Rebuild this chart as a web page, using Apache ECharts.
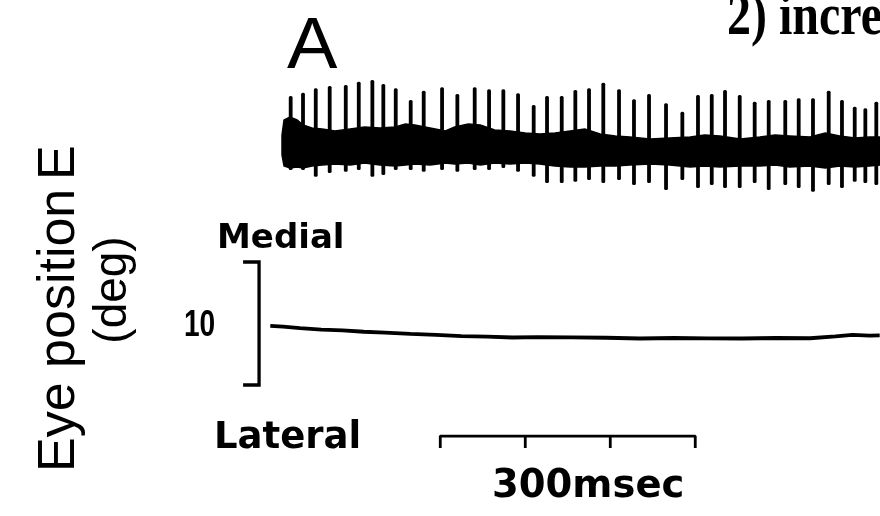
<!DOCTYPE html>
<html><head><meta charset="utf-8">
<script src="https://cdn.jsdelivr.net/npm/echarts@6.0.0/dist/echarts.min.js"></script>
<style>html,body{margin:0;padding:0;background:#fff}#chart{width:880px;height:516px}</style>
</head><body><div id="chart"></div>
<script>
// ---- Unit recording (arbitrary units), time in ms ----
const spikeTimes = [9, 23.5, 38.5, 54.9, 73.8, 89.1, 105.1, 118, 132.6, 150.2, 165.5, 187.1, 205.1, 225.5, 242.4, 259.2, 276.5, 294.9, 310.6, 327.9, 343.9, 360, 376.8, 395.3, 412.9, 430.6, 450.6, 469.8, 488.2, 504.4, 520, 537.3, 554.9, 571.4, 590.9, 606.7, 623.5, 642, 657.6, 672.6, 685.1, 698];
const spikePeaks = [51, 54.3, 58.7, 61, 62, 65.3, 67, 63, 58.7, 47, 56.3, 59.7, 53, 59.7, 57.7, 57.7, 53.7, 42, 51, 51, 57, 58.7, 64.3, 57.7, 47.7, 53, 43.7, 35.3, 52, 53, 57, 52, 45.3, 47, 47, 48.7, 48.7, 56.3, 47, 40.3, 38.7, 45.3];
const spikeTroughs = [-23, -23, -29.7, -26, -24.7, -23, -29.7, -28, -23, -23, -24.7, -23, -24.7, -23, -23, -21, -24.7, -29.7, -36, -36, -34.7, -33, -36, -33, -38, -36, -43, -33, -41, -38, -41, -41, -36, -43, -38, -41, -44.7, -38, -41, -34.7, -36, -38];
const bandTimes = [-1.2, 1.2, 8.2, 16.5, 23.5, 34, 46, 61, 79, 96, 114, 132, 144, 155, 173, 191, 202, 218, 232, 249, 267, 285, 302, 320, 338, 355, 373, 391, 408, 432, 455, 479, 496, 514, 538, 561, 579, 596, 620, 638, 655, 673, 690, 702.4];
const bandUpper = [12, 27, 30, 27, 22, 19, 18, 16, 18, 20, 19, 20, 23, 22, 19, 16, 20, 23, 22, 17, 16, 14, 13, 14, 16, 18, 13, 11, 10, 8, 9, 10, 12, 11, 8, 10, 12, 11, 10, 14, 11, 9, 10, 10];
const bandLower = [-8, -19, -21, -20, -21, -19, -18, -17, -18, -16, -18, -19, -18, -17, -18, -16, -17, -16, -18, -16, -17, -16, -17, -19, -20, -20, -19, -19, -18, -17, -18, -20, -19, -20, -19, -19, -18, -20, -19, -21, -19, -20, -19, -18];

// ---- Eye position (deg), time in ms ----
const eyeTimes = [-15, 0, 20, 45, 70, 95, 120, 150, 180, 210, 240, 270, 300, 340, 380, 420, 460, 500, 540, 580, 620, 650, 670, 690, 702];
const eyeDeg = [9.80, 9.74, 9.62, 9.50, 9.44, 9.33, 9.26, 9.15, 9.08, 8.98, 8.93, 8.86, 8.90, 8.88, 8.84, 8.78, 8.82, 8.79, 8.78, 8.82, 8.80, 8.95, 9.08, 9.02, 9.03];

// ---- Scale bars ----
const bracketDeg = [5, 15];          // 10 deg calibration
const bracketLabel = '10';
const scaleBarMs = [185, 285, 385, 485]; // 300 ms with 100 ms ticks
const scaleLabel = '300msec';

const chart = echarts.init(document.getElementById('chart'), null, {renderer: 'canvas'});

const xRange = {min: -333, max: 702.35};
const spikeData = spikeTimes.map((t, i) => [t, spikePeaks[i], spikeTroughs[i]]);

const series = [
  {
    type: 'custom', xAxisIndex: 0, yAxisIndex: 0, silent: true,
    data: [[bandTimes[0], 0]],
    renderItem: function (params, api) {
      const pts = [];
      for (let i = 0; i < bandTimes.length; i++) pts.push(api.coord([bandTimes[i], bandUpper[i]]));
      for (let i = bandTimes.length - 1; i >= 0; i--) pts.push(api.coord([bandTimes[i], bandLower[i]]));
      return {type: 'polygon', shape: {points: pts}, style: {fill: '#000', stroke: '#000', lineWidth: 1.5}};
    }
  },
  {
    type: 'custom', xAxisIndex: 0, yAxisIndex: 0, silent: true,
    data: spikeData,
    encode: {x: 0, y: [1, 2]},
    renderItem: function (params, api) {
      const t = api.value(0);
      const a = api.coord([t, api.value(1)]);
      const b = api.coord([t, api.value(2)]);
      return {type: 'rect', shape: {x: a[0] - 1.9, y: a[1], width: 3.8, height: b[1] - a[1], r: 1.5}, style: {fill: '#000'}};
    }
  },
  {
    type: 'line', xAxisIndex: 1, yAxisIndex: 1, silent: true, symbol: 'none',
    data: eyeTimes.map((t, i) => [t, eyeDeg[i]]),
    lineStyle: {color: '#000', width: 3.8}
  },
  {
    type: 'line', xAxisIndex: 1, yAxisIndex: 1, silent: true, symbol: 'none',
    data: [[-47, bracketDeg[1]], [-28.2, bracketDeg[1]], [-28.2, bracketDeg[0]], [-47, bracketDeg[0]]],
    lineStyle: {color: '#000', width: 3.3, join: 'miter'}
  },
  {
    type: 'line', xAxisIndex: 1, yAxisIndex: 1, silent: true, symbol: 'none',
    data: [[scaleBarMs[0], -0.5], [scaleBarMs[0], 0.85], [scaleBarMs[3], 0.85], [scaleBarMs[3], -0.5]],
    lineStyle: {color: '#000', width: 2.8}
  }
].concat(scaleBarMs.slice(1, 3).map(t => ({
  type: 'line', xAxisIndex: 1, yAxisIndex: 1, silent: true, symbol: 'none',
  data: [[t, 0.85], [t, -0.5]],
  lineStyle: {color: '#000', width: 2.8}
})));

const txt = (x, y, text, font, extra, sx) => ({
  type: 'text', x: x, y: y, silent: true, scaleX: sx || 1,
  style: Object.assign({text: text, font: font, fill: '#000', textAlign: 'left', textVerticalAlign: 'bottom'}, extra || {})
});

chart.setOption({
  animation: false,
  backgroundColor: '#fff',
  grid: [
    {left: 0, right: 0, top: 47, height: 200},
    {left: 0, right: 0, top: 200.5, height: 246}
  ],
  xAxis: [
    Object.assign({type: 'value', gridIndex: 0, show: false}, xRange),
    Object.assign({type: 'value', gridIndex: 1, show: false}, xRange)
  ],
  yAxis: [
    {type: 'value', gridIndex: 0, show: false, min: -100, max: 100},
    {type: 'value', gridIndex: 1, show: false, min: 0, max: 20}
  ],
  series: series,
  graphic: [
    txt(727, 48, '2) incre', 'bold 60px "Liberation Serif", serif', null, 0.8),
    txt(287, 84, 'A', 'normal 72px "Liberation Sans", sans-serif', null, 1.05),
    txt(217, 256, 'Medial', 'bold 34px "DejaVu Sans", sans-serif'),
    txt(184, 344, bracketLabel, 'bold 36px "Liberation Sans", sans-serif', null, 0.78),
    txt(214, 457, 'Lateral', 'bold 37px "DejaVu Sans", sans-serif'),
    txt(492, 506, scaleLabel, 'bold 38.5px "DejaVu Sans", sans-serif'),
    {type: 'text', x: 60, y: 472, rotation: Math.PI / 2, silent: true,
     style: {text: 'Eye position', font: 'normal 52px "Liberation Sans", sans-serif', fill: '#000', textAlign: 'left', textVerticalAlign: 'middle'}},
    {type: 'text', x: 60, y: 180, rotation: Math.PI / 2, silent: true,
     style: {text: 'E', font: 'normal 52px "Liberation Sans", sans-serif', fill: '#000', textAlign: 'left', textVerticalAlign: 'middle'}},
    {type: 'text', x: 113, y: 290, rotation: Math.PI / 2, silent: true,
     style: {text: '(deg)', font: 'normal 46px "Liberation Sans", sans-serif', fill: '#000', textAlign: 'center', textVerticalAlign: 'middle'}}
  ]
});
</script>
</body></html>
